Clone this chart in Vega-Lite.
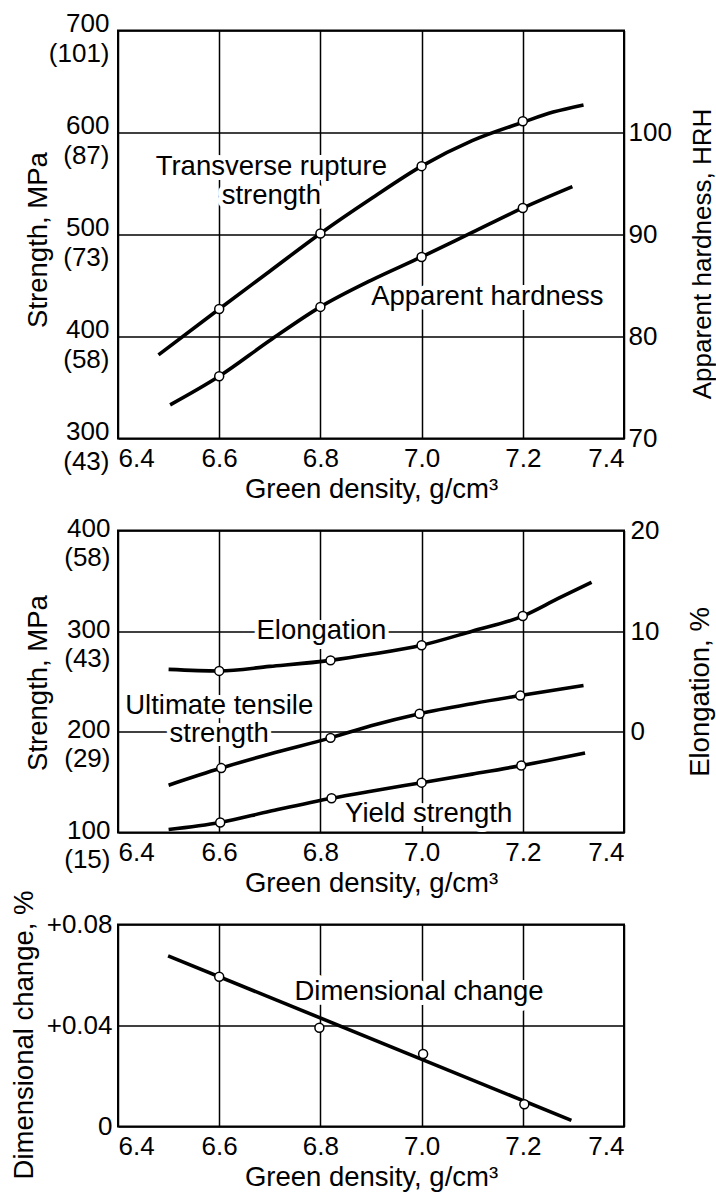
{
  "$schema": "https://vega.github.io/schema/vega-lite/v6.json",
  "background": "white",
  "padding": {"left": 8, "top": 9.5, "right": 0, "bottom": 0},
  "spacing": 92,
  "bounds": "flush",
  "datasets": {
    "trs_c": [{"d": 6.48, "v": 382}, {"d": 6.6, "v": 427}, {"d": 6.7, "v": 464}, {"d": 6.8, "v": 501}, {"d": 6.9, "v": 535}, {"d": 7.0, "v": 567}, {"d": 7.1, "v": 592}, {"d": 7.2, "v": 610}, {"d": 7.26, "v": 620}, {"d": 7.32, "v": 627}],
    "trs_p": [{"d": 6.6, "v": 427}, {"d": 6.8, "v": 501}, {"d": 7.0, "v": 567}, {"d": 7.2, "v": 611}],
    "ah_c": [{"d": 6.503, "v": 73.3}, {"d": 6.6, "v": 76.1}, {"d": 6.7, "v": 79.6}, {"d": 6.8, "v": 82.9}, {"d": 6.9, "v": 85.5}, {"d": 7.0, "v": 87.8}, {"d": 7.1, "v": 90.2}, {"d": 7.2, "v": 92.6}, {"d": 7.298, "v": 94.7}],
    "ah_p": [{"d": 6.6, "v": 76.1}, {"d": 6.8, "v": 82.9}, {"d": 7.0, "v": 87.8}, {"d": 7.2, "v": 92.6}],
    "p1_lab": [{"d": 6.703, "v": 566, "t": "Transverse rupture\nstrength"}, {"d": 7.13, "v": 439, "t": "Apparent hardness"}],
    "el_c": [{"d": 6.5, "v": 6.2}, {"d": 6.6, "v": 6.05}, {"d": 6.7, "v": 6.5}, {"d": 6.82, "v": 7.1}, {"d": 6.9, "v": 7.7}, {"d": 7.0, "v": 8.6}, {"d": 7.1, "v": 10.0}, {"d": 7.2, "v": 11.5}, {"d": 7.27, "v": 13.25}, {"d": 7.336, "v": 14.85}],
    "el_p": [{"d": 6.6, "v": 6.05}, {"d": 6.82, "v": 7.1}, {"d": 7.0, "v": 8.6}, {"d": 7.2, "v": 11.5}],
    "uts_c": [{"d": 6.5, "v": 147}, {"d": 6.604, "v": 164}, {"d": 6.7, "v": 178}, {"d": 6.82, "v": 194}, {"d": 6.9, "v": 206}, {"d": 6.996, "v": 218}, {"d": 7.1, "v": 228}, {"d": 7.195, "v": 236}, {"d": 7.32, "v": 246}],
    "uts_p": [{"d": 6.604, "v": 164}, {"d": 6.82, "v": 194}, {"d": 6.996, "v": 218}, {"d": 7.195, "v": 236}],
    "ys_c": [{"d": 6.5, "v": 103}, {"d": 6.602, "v": 110}, {"d": 6.7, "v": 121}, {"d": 6.822, "v": 134}, {"d": 6.9, "v": 141}, {"d": 7.0, "v": 149.5}, {"d": 7.1, "v": 158}, {"d": 7.197, "v": 166.5}, {"d": 7.323, "v": 179}],
    "ys_p": [{"d": 6.602, "v": 110}, {"d": 6.822, "v": 134}, {"d": 7.0, "v": 149.5}, {"d": 7.197, "v": 166.5}],
    "p2_lab": [{"d": 6.802, "v": 300, "t": "Elongation"}, {"d": 6.6, "v": 226, "t": "Ultimate tensile\nstrength"}, {"d": 7.014, "v": 118.5, "t": "Yield strength"}],
    "dc_c": [{"d": 6.499, "v": 0.0676}, {"d": 7.296, "v": 0.0024}],
    "dc_p": [{"d": 6.6, "v": 0.0593}, {"d": 6.798, "v": 0.0391}, {"d": 7.003, "v": 0.0287}, {"d": 7.203, "v": 0.0088}],
    "p3_lab": [{"d": 6.995, "v": 0.0532, "t": "Dimensional change"}]
  },
  "vconcat": [
    {
      "width": 506,
      "height": 408,
      "encoding": {
        "x": {"field": "d", "type": "quantitative", "scale": {"domain": [6.4, 7.4], "nice": false, "zero": false},
          "axis": {"title": "Green density, g/cm³", "values": [6.4, 6.6, 6.8, 7.0, 7.2, 7.4], "format": ".1f", "labelFlush": true, "labelBaseline": "alphabetic", "labelPadding": 28, "titleBaseline": "alphabetic", "titleY": 59, "grid": true}}
      },
      "layer": [
        {
          "encoding": {
            "y": {"field": "v", "type": "quantitative", "scale": {"domain": [300, 700], "nice": false, "zero": false},
              "axis": {"title": "Strength, MPa", "values": [300, 400, 500, 600, 700], "labelExpr": "[datum.label, datum.value == 300 ? '(43)' : datum.value == 400 ? '(58)' : datum.value == 500 ? '(73)' : datum.value == 600 ? '(87)' : '(101)']", "labelBaseline": "alphabetic", "labelOffset": 1, "labelLineHeight": 30, "labelPadding": 9, "labelAlign": "right", "labelFlush": false, "grid": true, "titleAngle": -90, "titleX": -72, "titleY": 209, "titleBaseline": "alphabetic", "titleAlign": "center"}}
          },
          "layer": [
            {"data": {"name": "p1_lab"}, "mark": {"type": "text", "font": "Liberation Sans", "fontSize": 27.5, "lineHeight": 29, "lineBreak": "\n", "align": "center", "baseline": "middle", "fill": "white", "stroke": "white", "strokeWidth": 10, "strokeJoin": "round"}, "encoding": {"text": {"field": "t"}}},
            {"data": {"name": "trs_c"}, "mark": {"type": "line", "color": "black", "strokeWidth": 3.6, "interpolate": "monotone"}},
            {"data": {"name": "trs_p"}, "mark": {"type": "point", "shape": "circle", "filled": true, "fill": "white", "stroke": "black", "strokeWidth": 1.5, "size": 80, "opacity": 1}},
            {"data": {"name": "p1_lab"}, "mark": {"type": "text", "font": "Liberation Sans", "fontSize": 27.5, "lineHeight": 29, "lineBreak": "\n", "align": "center", "baseline": "middle", "color": "black"}, "encoding": {"text": {"field": "t"}}}
          ]
        },
        {
          "encoding": {
            "y": {"field": "v", "type": "quantitative", "scale": {"domain": [70, 110], "nice": false, "zero": false},
              "axis": {"orient": "right", "title": "Apparent hardness, HRH", "titleFontSize": 26, "values": [70, 80, 90, 100], "labelBaseline": "middle", "labelPadding": 4, "labelAlign": "left", "labelFlush": false, "grid": false, "titleAngle": -90, "titleX": 86, "titleY": 223, "titleBaseline": "alphabetic", "titleAlign": "center"}}
          },
          "layer": [
            {"data": {"name": "ah_c"}, "mark": {"type": "line", "color": "black", "strokeWidth": 3.6, "interpolate": "monotone"}},
            {"data": {"name": "ah_p"}, "mark": {"type": "point", "shape": "circle", "filled": true, "fill": "white", "stroke": "black", "strokeWidth": 1.5, "size": 80, "opacity": 1}}
          ]
        }
      ],
      "resolve": {"scale": {"y": "independent"}}
    },
    {
      "width": 506,
      "height": 302,
      "encoding": {
        "x": {"field": "d", "type": "quantitative", "scale": {"domain": [6.4, 7.4], "nice": false, "zero": false},
          "axis": {"title": "Green density, g/cm³", "values": [6.4, 6.6, 6.8, 7.0, 7.2, 7.4], "format": ".1f", "labelFlush": true, "labelBaseline": "alphabetic", "labelPadding": 28, "titleBaseline": "alphabetic", "titleY": 59, "grid": true}}
      },
      "layer": [
        {
          "encoding": {
            "y": {"field": "v", "type": "quantitative", "scale": {"domain": [100, 400], "nice": false, "zero": false},
              "axis": {"title": "Strength, MPa", "values": [100, 200, 300, 400], "labelExpr": "[datum.label, datum.value == 100 ? '(15)' : datum.value == 200 ? '(29)' : datum.value == 300 ? '(43)' : '(58)']", "labelBaseline": "alphabetic", "labelOffset": 6, "labelLineHeight": 29, "labelPadding": 8, "labelAlign": "right", "labelFlush": false, "grid": true, "titleAngle": -90, "titleX": -72, "titleY": 152, "titleBaseline": "alphabetic", "titleAlign": "center"}}
          },
          "layer": [
            {"data": {"name": "p2_lab"}, "mark": {"type": "text", "font": "Liberation Sans", "fontSize": 27.5, "lineHeight": 28, "lineBreak": "\n", "align": "center", "baseline": "middle", "fill": "white", "stroke": "white", "strokeWidth": 8, "strokeJoin": "round"}, "encoding": {"text": {"field": "t"}}},
            {"data": {"name": "uts_c"}, "mark": {"type": "line", "color": "black", "strokeWidth": 3.6, "interpolate": "monotone"}},
            {"data": {"name": "ys_c"}, "mark": {"type": "line", "color": "black", "strokeWidth": 3.6, "interpolate": "monotone"}},
            {"data": {"name": "uts_p"}, "mark": {"type": "point", "shape": "circle", "filled": true, "fill": "white", "stroke": "black", "strokeWidth": 1.5, "size": 80, "opacity": 1}},
            {"data": {"name": "ys_p"}, "mark": {"type": "point", "shape": "circle", "filled": true, "fill": "white", "stroke": "black", "strokeWidth": 1.5, "size": 80, "opacity": 1}},
            {"data": {"name": "p2_lab"}, "mark": {"type": "text", "font": "Liberation Sans", "fontSize": 27.5, "lineHeight": 28, "lineBreak": "\n", "align": "center", "baseline": "middle", "color": "black"}, "encoding": {"text": {"field": "t"}}}
          ]
        },
        {
          "encoding": {
            "y": {"field": "v", "type": "quantitative", "scale": {"domain": [-10, 20], "nice": false, "zero": false},
              "axis": {"orient": "right", "title": "Elongation, %", "values": [0, 10, 20], "labelBaseline": "middle", "labelPadding": 6, "labelAlign": "left", "labelFlush": false, "grid": false, "titleAngle": -90, "titleX": 84, "titleY": 161, "titleBaseline": "alphabetic", "titleAlign": "center"}}
          },
          "layer": [
            {"data": {"name": "el_c"}, "mark": {"type": "line", "color": "black", "strokeWidth": 3.6, "interpolate": "monotone"}},
            {"data": {"name": "el_p"}, "mark": {"type": "point", "shape": "circle", "filled": true, "fill": "white", "stroke": "black", "strokeWidth": 1.5, "size": 80, "opacity": 1}}
          ]
        }
      ],
      "resolve": {"scale": {"y": "independent"}}
    },
    {
      "width": 506,
      "height": 202,
      "encoding": {
        "x": {"field": "d", "type": "quantitative", "scale": {"domain": [6.4, 7.4], "nice": false, "zero": false},
          "axis": {"title": "Green density, g/cm³", "values": [6.4, 6.6, 6.8, 7.0, 7.2, 7.4], "format": ".1f", "labelFlush": true, "labelBaseline": "alphabetic", "labelPadding": 28, "titleBaseline": "alphabetic", "titleY": 59, "grid": true}},
        "y": {"field": "v", "type": "quantitative", "scale": {"domain": [0, 0.08], "nice": false, "zero": false},
          "axis": {"title": "Dimensional change, %", "values": [0, 0.04, 0.08], "labelExpr": "datum.value == 0 ? '0' : '+' + format(datum.value, '.2f')", "labelBaseline": "middle", "labelPadding": 6, "labelAlign": "right", "labelFlush": false, "grid": true, "titleAngle": -90, "titleX": -86, "titleY": 110, "titleBaseline": "alphabetic", "titleAlign": "center"}}
      },
      "layer": [
        {"data": {"name": "p3_lab"}, "mark": {"type": "text", "font": "Liberation Sans", "fontSize": 27.5, "align": "center", "baseline": "middle", "fill": "white", "stroke": "white", "strokeWidth": 10, "strokeJoin": "round"}, "encoding": {"text": {"field": "t"}}},
        {"data": {"name": "dc_c"}, "mark": {"type": "line", "color": "black", "strokeWidth": 3.6}},
        {"data": {"name": "dc_p"}, "mark": {"type": "point", "shape": "circle", "filled": true, "fill": "white", "stroke": "black", "strokeWidth": 1.5, "size": 80, "opacity": 1}},
        {"data": {"name": "p3_lab"}, "mark": {"type": "text", "font": "Liberation Sans", "fontSize": 27.5, "align": "center", "baseline": "middle", "color": "black"}, "encoding": {"text": {"field": "t"}}}
      ]
    }
  ],
  "config": {
    "view": {"stroke": "black", "strokeWidth": 2},
    "axis": {"labelFont": "Liberation Sans", "titleFont": "Liberation Sans", "labelFontSize": 26, "titleFontSize": 27.5, "labelColor": "black", "titleColor": "black", "titleFontWeight": "normal", "ticks": false, "tickSize": 0, "domain": false, "gridColor": "black", "gridOpacity": 1, "gridWidth": 1.5, "labelOverlap": false}
  }
}
